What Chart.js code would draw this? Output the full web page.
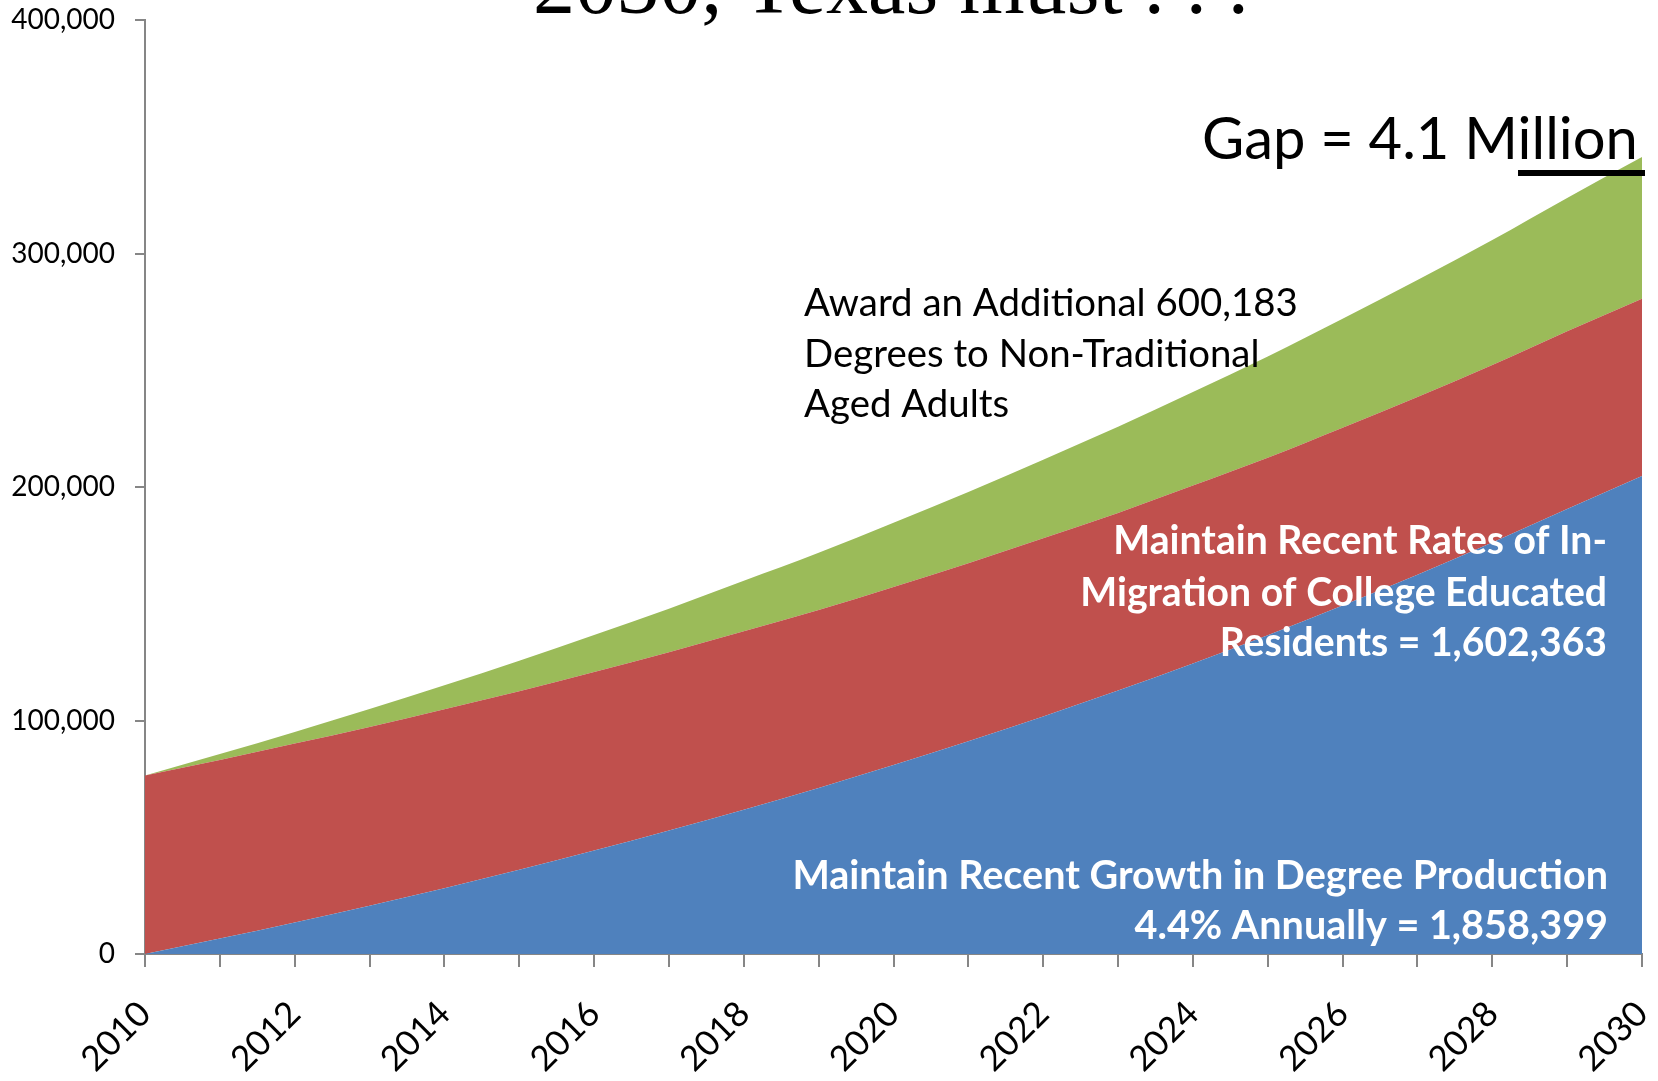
<!DOCTYPE html>
<html>
<head>
<meta charset="utf-8">
<script src="https://cdn.jsdelivr.net/npm/chart.js@4.4.0/dist/chart.umd.min.js"></script>
<style>
  html, body { margin: 0; padding: 0; background: #fff; }
  canvas { display: block; }
</style>
</head>
<body>
<canvas id="chart" width="1658" height="1081"></canvas>
<script>
// years on the x axis (labels shown every other year)
var years = ['2010', '2011', '2012', '2013', '2014', '2015', '2016', '2017', '2018', '2019', '2020',
             '2021', '2022', '2023', '2024', '2025', '2026', '2027', '2028', '2029', '2030'];

// stacked series
var degreeGrowth = [0, 6600, 13500, 20700, 28200, 36100, 44300, 52900, 61800, 71100, 80900,
                    91100, 101700, 112800, 124400, 136500, 149200, 162400, 176200, 190600, 204700];
var inMigration = [76400, 76500, 76600, 76500, 76600, 76400, 76500, 76300, 76400, 76200, 76300,
                   76200, 76300, 76100, 76200, 76000, 76200, 76100, 76000, 76100, 75900];
var nonTraditional = [0, 2500, 5000, 7700, 10300, 13100, 15800, 18700, 21600, 24500, 27500,
                      30600, 33700, 36900, 40100, 43400, 46700, 50100, 53600, 57100, 60700];

var yTicks = [0, 100000, 200000, 300000, 400000];

var titleText = '2030, Texas must . . .';
var gapText = 'Gap = 4.1 Million';
var greenNote = ['Award an Additional 600,183', 'Degrees to Non-Traditional', 'Aged Adults'];
var redNote = ['Maintain Recent Rates of In-', 'Migration of College Educated', 'Residents = 1,602,363'];
var blueNote = ['Maintain Recent Growth in Degree Production', '4.4% Annually = 1,858,399'];

Chart.defaults.font.family = 'Lato';
Chart.defaults.color = '#000';

// font size that makes the widest line as wide as targetW
function fitSize(ctx, lines, weight, family, targetW) {
    ctx.font = weight + ' 100px ' + family;
    var w = 0;
    for (var i = 0; i < lines.length; i++) {
        w = Math.max(w, ctx.measureText(lines[i]).width);
    }
    return 100 * targetW / w;
}

var slideText = {
    id: 'slideText',
    afterDraw: function(chart) {
        var ctx = chart.ctx;
        ctx.save();
        ctx.textBaseline = 'alphabetic';

        // cut-off slide title
        var s = fitSize(ctx, [titleText], 'normal', '"Liberation Serif"', 716);
        ctx.font = s + 'px "Liberation Serif"';
        ctx.fillStyle = '#000';
        ctx.textAlign = 'left';
        ctx.fillText(titleText, 533, 13);

        // gap label with underline
        s = fitSize(ctx, [gapText], 'normal', 'Lato', 436);
        ctx.font = s + 'px Lato';
        ctx.fillText(gapText, 1202, 159);
        var ux = 1202 + ctx.measureText('Gap = 4.1 M').width;
        ctx.fillRect(ux, 170, 1645 - ux, 6);

        // green band note
        s = fitSize(ctx, greenNote, 'normal', 'Lato', 494);
        ctx.font = s + 'px Lato';
        var gy = [316, 367, 417];
        for (var i = 0; i < greenNote.length; i++) {
            ctx.fillText(greenNote[i], 804, gy[i]);
        }

        // red band note
        ctx.fillStyle = '#fff';
        ctx.textAlign = 'right';
        s = fitSize(ctx, redNote, 'bold', 'Lato', 527);
        ctx.font = 'bold ' + s + 'px Lato';
        var ry = [554, 606, 656];
        for (i = 0; i < redNote.length; i++) {
            ctx.fillText(redNote[i], 1607, ry[i]);
        }

        // blue band note
        s = fitSize(ctx, blueNote, 'bold', 'Lato', 816);
        ctx.font = 'bold ' + s + 'px Lato';
        var by = [889, 939];
        for (i = 0; i < blueNote.length; i++) {
            ctx.fillText(blueNote[i], 1608, by[i]);
        }
        ctx.restore();
    }
};

var ctx = document.getElementById('chart');

var chart = new Chart(ctx, {
    type: 'line',
    data: {
        labels: years,
        datasets: [{
            label: 'Degree production growth',
            data: degreeGrowth,
            backgroundColor: '#4F81BD',
            fill: 'origin'
        }, {
            label: 'In-migration',
            data: inMigration,
            backgroundColor: '#C0504D',
            fill: '-1'
        }, {
            label: 'Non-traditional adults',
            data: nonTraditional,
            backgroundColor: '#9BBB59',
            fill: '-1'
        }]
    },
    options: {
        responsive: false,
        animation: false,
        layout: { padding: { left: 0, right: 16, top: 20, bottom: 0 } },
        elements: {
            line: { borderWidth: 0, cubicInterpolationMode: 'monotone' },
            point: { radius: 0 }
        },
        plugins: {
            legend: { display: false },
            tooltip: { enabled: false }
        },
        scales: {
            x: {
                offset: false,
                grid: { drawOnChartArea: false, drawTicks: true, tickLength: 13, color: '#868686', lineWidth: 2 },
                border: { color: '#868686', width: 2 },
                ticks: {
                    autoSkip: false,
                    maxRotation: 45,
                    minRotation: 45,
                    padding: 26,
                    font: { size: 35 },
                    callback: function(value, index) {
                        return index % 2 === 0 ? years[index] : '';
                    }
                },
                afterFit: function(scale) {
                    scale.height = 127;
                    scale.paddingLeft = 0;
                    scale.paddingRight = 0;
                }
            },
            y: {
                stacked: true,
                min: yTicks[0],
                max: yTicks[yTicks.length - 1],
                grid: { drawOnChartArea: false, drawTicks: true, tickLength: 10, color: '#868686', lineWidth: 2 },
                border: { color: '#868686', width: 2 },
                afterBuildTicks: function(scale) {
                    scale.ticks = yTicks.map(function(v) { return { value: v }; });
                },
                ticks: {
                    padding: 20,
                    font: { size: 28 },
                    callback: function(value) { return value.toLocaleString('en-US'); }
                },
                afterFit: function(scale) {
                    scale.width = 145;
                    scale.paddingTop = 0;
                    scale.paddingBottom = 0;
                }
            }
        }
    },
    plugins: [slideText]
});
</script>
</body>
</html>
